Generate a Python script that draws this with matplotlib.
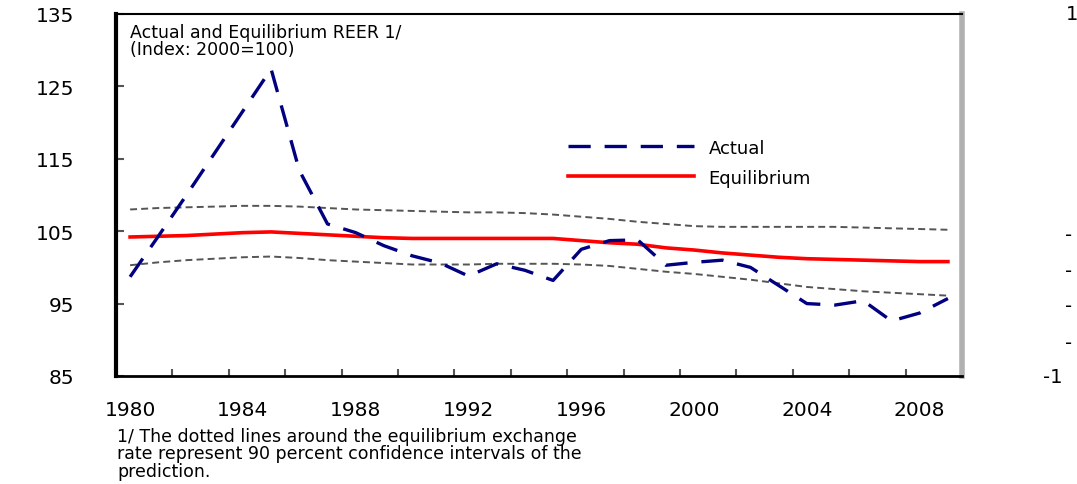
import matplotlib
matplotlib.use('Agg')
import matplotlib.pyplot as plt

years = list(range(1980, 2010))
actual = [98.7, 104.3, 110.0, 115.8, 121.6, 127.4, 113.4, 106.0, 104.8, 103.0,
          101.6, 100.6, 98.8, 100.5, 99.6, 98.2, 102.5, 103.7, 103.8, 100.3,
          100.7, 101.0, 100.0, 97.5, 95.0, 94.8, 95.4, 92.6, 93.7, 95.7]
equilibrium = [104.2, 104.3, 104.4, 104.6, 104.8, 104.9, 104.7, 104.5, 104.3, 104.1,
               104.0, 104.0, 104.0, 104.0, 104.0, 104.0, 103.7, 103.4, 103.2, 102.7,
               102.4, 102.0, 101.7, 101.4, 101.2, 101.1, 101.0, 100.9, 100.8, 100.8]
upper = [108.0, 108.2, 108.3, 108.4, 108.5, 108.5, 108.4, 108.2, 108.0, 107.9,
         107.8, 107.7, 107.6, 107.6, 107.5, 107.3, 107.0, 106.7, 106.3, 106.0,
         105.7, 105.6, 105.6, 105.6, 105.6, 105.6, 105.5, 105.4, 105.3, 105.2]
lower = [100.3, 100.7, 101.0, 101.2, 101.4, 101.5, 101.3, 101.0, 100.8, 100.6,
         100.4, 100.4, 100.4, 100.5, 100.5, 100.5, 100.4, 100.2, 99.8, 99.4,
         99.1, 98.7, 98.3, 97.8, 97.3, 97.0, 96.7, 96.5, 96.3, 96.1]
label_years = years[::4]
mark_years = [y + 1.5 for y in years[::2]][:-1]
y_ticks = [85, 95, 105, 115, 125, 135]

plt.rcParams['font.family'] = 'DejaVu Sans'
plt.rcParams['lines.scale_dashes'] = False

fig = plt.figure(figsize=(10.77, 4.85), dpi=100)
ax = fig.add_axes([116/1077, 1 - 377/485, 846/1077, 362/485])

ax.plot(years, upper, color='#555555', lw=1.4, dashes=(5, 3))
ax.plot(years, lower, color='#555555', lw=1.4, dashes=(5, 3))
ax.plot(years, equilibrium, color='#ff0000', lw=2.6, label='Equilibrium')
ax.plot(years, actual, color='#000080', lw=2.4, dashes=(16, 10), label='Actual')

ax.set_xlim(years[0] - 0.5, years[-1] + 0.5)
ax.set_ylim(85, 135)

ax.set_xticks(label_years)
ax.set_xticklabels([str(y) for y in label_years])
ax.tick_params(axis='x', which='major', length=0, pad=17, labelsize=14.5)
ax.set_xticks(mark_years, minor=True)
ax.tick_params(axis='x', which='minor', direction='in', length=5, width=1.5, color='#555555')

ax.set_yticks(y_ticks)
ax.tick_params(axis='y', direction='in', length=6, width=1.5, color='#555555',
               pad=30, labelsize=14.5)

for s in ['left', 'bottom', 'top']:
    ax.spines[s].set_color('black')
ax.spines['left'].set_linewidth(3)
ax.spines['bottom'].set_linewidth(2)
ax.spines['top'].set_linewidth(1.5)
ax.spines['right'].set_color('#b0b0b0')
ax.spines['right'].set_linewidth(4)

ax.text(0.016, 0.975, 'Actual and Equilibrium REER 1/\n(Index: 2000=100)',
        transform=ax.transAxes, ha='left', va='top', fontsize=12.5, linespacing=0.95)

handles, labels = ax.get_legend_handles_labels()
ax.legend(handles[::-1], labels[::-1], loc='upper left', bbox_to_anchor=(0.534, 0.656),
          frameon=False, fontsize=13, handlelength=7, handletextpad=0.8,
          labelspacing=0.67, borderpad=0, borderaxespad=0)

fig.text(117/1077, 1 - 428/485,
         '1/ The dotted lines around the equilibrium exchange\n'
         'rate represent 90 percent confidence intervals of the\n'
         'prediction.',
         ha='left', va='top', fontsize=12.5, linespacing=0.95)

# fragments of the neighbouring panel's axis labels
fig.text(1066/1077, 1 - 15/485, '1', ha='left', va='center', fontsize=14)
for yy in [235, 271, 307, 343]:
    fig.text(1065/1077, 1 - yy/485, '-', ha='left', va='center', fontsize=14)
fig.text(1043/1077, 1 - 378/485, '-1', ha='left', va='center', fontsize=14)

fig.savefig('out.png', dpi=100)
